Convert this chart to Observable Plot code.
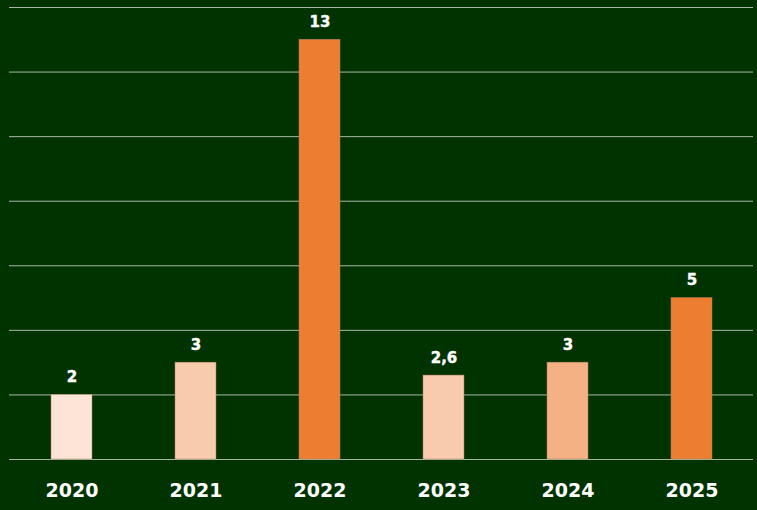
<!DOCTYPE html>
<html>
<head>
<meta charset="utf-8">
<script src="https://cdn.jsdelivr.net/npm/d3@7"></script>
<script src="https://cdn.jsdelivr.net/npm/@observablehq/plot@0.6"></script>
<style>
  html, body { margin: 0; padding: 0; background: #003300; }
  #chart { width: 757px; height: 510px; }
</style>
</head>
<body>
<div id="chart"></div>
<script>
const years = ["2020", "2021", "2022", "2023", "2024", "2025"];
const values = [2, 3, 13, 2.6, 3, 5];
const colors = ["#FCE4D6", "#F8CBAD", "#ED7D31", "#F8CBAD", "#F4B183", "#ED7D31"];
const gridTicks = [0, 2, 4, 6, 8, 10, 12, 14];

const data = years.map((y, i) => ({year: y, value: values[i], color: colors[i]}));
const fmt = v => String(v).replace(".", ",");

const chart = Plot.plot({
  width: 757,
  height: 510,
  marginLeft: 9,
  marginRight: 4,
  marginTop: 7,
  marginBottom: 51,
  style: {background: "#003300", fontFamily: "'DejaVu Sans', sans-serif"},
  x: {domain: years, paddingInner: 0.67, paddingOuter: 0.335, label: null, tickSize: 0},
  y: {domain: [0, 14], axis: null},
  marks: [
    Plot.ruleY(gridTicks, {stroke: "#ffffff", strokeOpacity: 0.65, strokeWidth: 1}),
    Plot.barY(data, {x: "year", y: "value", fill: "color", stroke: "#b08060", strokeWidth: 0.5}),
    Plot.text(data, {x: "year", y: "value", text: d => fmt(d.value), dy: -17.5, fill: "white", stroke: "white", strokeWidth: 0.4, fontWeight: "bold", fontSize: 15}),
    Plot.axisX({tickSize: 0, tickPadding: 24, fontSize: 19, fontWeight: "bold", color: "white", stroke: "white", strokeWidth: 0.4, label: null})
  ]
});
document.getElementById("chart").appendChild(chart);
</script>
</body>
</html>
